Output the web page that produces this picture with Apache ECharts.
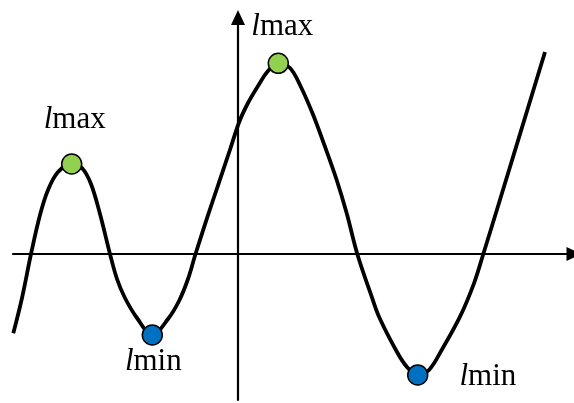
<!DOCTYPE html>
<html>
<head>
<meta charset="utf-8">
<script src="https://cdn.jsdelivr.net/npm/echarts@6/dist/echarts.min.js"></script>
<style>
  html, body { margin: 0; padding: 0; background: #fff; }
  #chart { width: 574px; height: 403px; }
</style>
</head>
<body>
<div id="chart"></div>
<script>
// curve points (x, y in axis units)
const curveX = [-22.47, -21.6, -20.7, -19.8, -19.0, -18.0, -16.63, -15.6, -14.7, -13.8, -12.8, -12.1, -11.3, -10.1, -8.57, -7.0, -5.9, -5.0, -4.25, -3.05, -1.93, -0.81, 0.13, 1.0, 2.0, 3.0, 4.03, 5.2, 6.2, 7.45, 8.7, 9.87, 10.87, 11.93, 13.37, 14.1, 15.9, 16.9, 17.97, 19.1, 20.37, 22.2, 23.6, 24.53, 26.1, 30.7];
const curveY = [-7.93, -4.4, 0, 3.9, 6.4, 8.2, 9.0, 8.6, 7.0, 4.0, 0, -2.5, -4.4, -6.4, -8.1, -6.5, -4.7, -2.5, 0, 3.73, 7.07, 10.4, 13.23, 15.1, 16.8, 18.3, 19.07, 18.6, 16.9, 14.07, 10.73, 7.4, 4.07, 0, -4.27, -6.27, -9.8, -11.3, -12.1, -11.6, -9.6, -6.27, -2.93, 0, 5.1, 20.2];

// extrema markers
const extremaX = [-16.63, -8.57, 4.03, 17.97];
const extremaY = [9.0, -8.1, 19.07, -12.1];
const extremaKind = ["max", "min", "max", "min"];

const chart = echarts.init(document.getElementById("chart"));

const labelStyle = {
  show: true,
  formatter: (p) => "{i|l}{t|" + extremaKind[p.dataIndex] + "}",
  rich: {
    i: { fontFamily: "Liberation Serif", fontStyle: "italic", fontSize: 31, color: "#000" },
    t: { fontFamily: "Liberation Serif", fontSize: 31, color: "#000" },
  },
};

const extremaData = extremaX.map((x, i) => {
  const item = {
    value: [x, extremaY[i]],
    itemStyle: { color: extremaKind[i] === "max" ? "#92d050" : "#0070c0" },
  };
  if (i === 0) item.label = { position: "top", distance: 18, offset: [3, 0] };
  if (i === 1) item.label = { position: "bottom", distance: 1, offset: [1, 0] };
  if (i === 2) item.label = { position: "top", distance: 10, offset: [4, 0] };
  if (i === 3) item.label = { position: "right", distance: 31, offset: [0, 2] };
  return item;
});

const option = {
  animation: false,
  grid: { left: 13, right: 0, top: 17.5, bottom: 3 },
  xAxis: {
    type: "value",
    min: -22.5,
    max: 33.6,
    axisLine: {
      onZero: true,
      symbol: ["none", "triangle"],
      symbolSize: [14, 15],
      lineStyle: { color: "#000", width: 2.2 },
    },
    axisTick: { show: false },
    axisLabel: { show: false },
    splitLine: { show: false },
  },
  yAxis: {
    type: "value",
    min: -14.6,
    max: 23.65,
    axisLine: {
      onZero: true,
      symbol: ["none", "triangle"],
      symbolSize: [14, 15],
      lineStyle: { color: "#000", width: 2.2 },
    },
    axisTick: { show: false },
    axisLabel: { show: false },
    splitLine: { show: false },
  },
  series: [
    {
      type: "line",
      data: curveX.map((x, i) => [x, curveY[i]]),
      smooth: 0.35,
      showSymbol: false,
      lineStyle: { color: "#000", width: 3.8 },
      z: 2,
    },
    {
      type: "scatter",
      data: extremaData,
      symbolSize: 20,
      itemStyle: { borderColor: "#000", borderWidth: 1.5, opacity: 1 },
      label: labelStyle,
      z: 3,
    },
  ],
};

chart.setOption(option);
</script>
</body>
</html>
